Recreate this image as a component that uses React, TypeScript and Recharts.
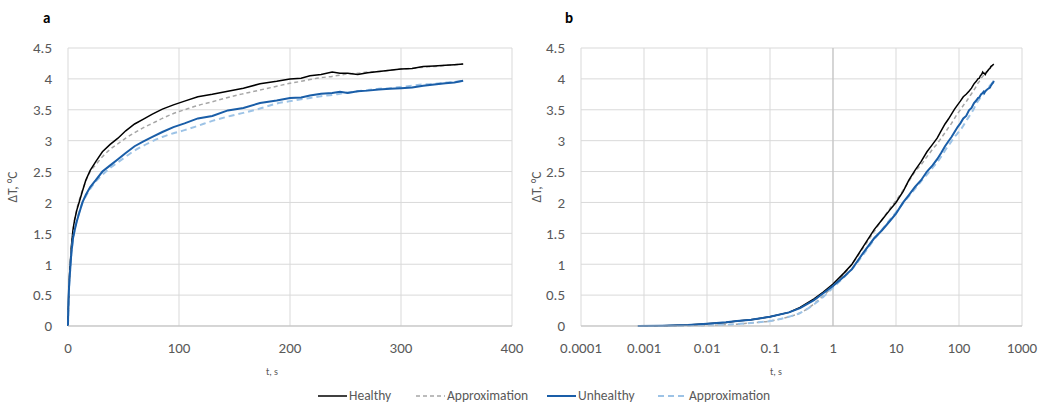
import React from 'react';
import { LineChart, Line, XAxis, YAxis, CartesianGrid, ReferenceLine } from 'recharts';

// time points, s (shared by both panels)
const T_SEC = [
  0.0008, 0.002, 0.005, 0.01, 0.02, 0.03, 0.05, 0.1, 0.2, 0.3, 0.5, 0.7, 1, 1.5, 2, 3, 4.5, 6, 8, 10,
  13, 16, 20, 25, 31, 38, 45, 52, 60, 68, 76, 85, 95, 105, 117, 130, 144, 158, 173, 188,
  200, 210, 218, 228, 238, 245, 252, 261, 270, 280, 290, 300, 310, 320, 330, 340, 348, 356,
];

const HEALTHY = [
  0, 0.005, 0.015, 0.035, 0.055, 0.08, 0.1, 0.15, 0.22, 0.3, 0.44, 0.55, 0.68, 0.86, 1.0, 1.28, 1.56, 1.72, 1.88, 2.0,
  2.18, 2.36, 2.52, 2.66, 2.82, 2.94, 3.04, 3.16, 3.27, 3.35, 3.43, 3.51, 3.58, 3.64, 3.71, 3.75, 3.8, 3.85, 3.92, 3.96,
  4.0, 4.01, 4.05, 4.07, 4.11, 4.09, 4.09, 4.07, 4.1, 4.12, 4.14, 4.16, 4.17, 4.2, 4.21, 4.22, 4.23, 4.24,
];

const HEALTHY_FIT = [
  0, 0.002, 0.005, 0.01, 0.02, 0.03, 0.05, 0.08, 0.15, 0.21, 0.36, 0.49, 0.64, 0.84, 1.0, 1.26, 1.53, 1.72, 1.9, 2.03,
  2.2, 2.34, 2.5, 2.61, 2.74, 2.86, 2.95, 3.04, 3.13, 3.21, 3.28, 3.36, 3.44, 3.5, 3.57, 3.63, 3.7, 3.76, 3.82, 3.88,
  3.93, 3.96, 3.99, 4.02, 4.04, 4.06, 4.08, 4.09, 4.11, 4.12, 4.14, 4.16, 4.17, 4.19, 4.2, 4.22, 4.23, 4.24,
];

const UNHEALTHY = [
  0, 0.005, 0.015, 0.035, 0.06, 0.08, 0.1, 0.15, 0.22, 0.29, 0.42, 0.53, 0.65, 0.8, 0.92, 1.18, 1.42, 1.55, 1.7, 1.82,
  2.0, 2.12, 2.25, 2.36, 2.5, 2.6, 2.7, 2.8, 2.91, 2.99, 3.06, 3.14, 3.22, 3.28, 3.36, 3.4, 3.49, 3.53, 3.61, 3.65,
  3.69, 3.7, 3.73, 3.76, 3.77, 3.79, 3.77, 3.8, 3.81, 3.83, 3.84, 3.85, 3.86, 3.89, 3.91, 3.93, 3.94, 3.97,
];

const UNHEALTHY_FIT = [
  0, 0.002, 0.005, 0.01, 0.02, 0.03, 0.05, 0.08, 0.15, 0.21, 0.35, 0.47, 0.62, 0.79, 0.92, 1.15, 1.4, 1.56, 1.72, 1.84,
  1.99, 2.1, 2.22, 2.34, 2.45, 2.56, 2.65, 2.74, 2.84, 2.92, 2.99, 3.06, 3.12, 3.17, 3.24, 3.32, 3.39, 3.45, 3.52, 3.6,
  3.64, 3.67, 3.69, 3.72, 3.74, 3.76, 3.78, 3.8, 3.82, 3.84, 3.85, 3.87, 3.89, 3.91, 3.92, 3.94, 3.95, 3.97,
];

const Y_TICKS = [0, 0.5, 1, 1.5, 2, 2.5, 3, 3.5, 4, 4.5];
const LIN_TICKS = [0, 100, 200, 300, 400];
const LOG_TICKS = [0.0001, 0.001, 0.01, 0.1, 1, 10, 100, 1000];

const rows = T_SEC.map((t, i) => ({
  t,
  healthy: HEALTHY[i],
  healthyFit: HEALTHY_FIT[i],
  unhealthy: UNHEALTHY[i],
  unhealthyFit: UNHEALTHY_FIT[i],
}));

const FONT = 'Carlito, Calibri, Lato, sans-serif';
const TEXT = '#595959';
const GRID = '#d9d9d9';

const tickStyle = { fontSize: 15, fill: TEXT, fontFamily: FONT };

type PanelProps = {
  log: boolean;
  left: number;
  width: number;
  margin: { top: number; right: number; bottom: number; left: number };
  yWidth: number;
};

const Panel: React.FC<PanelProps> = ({ log, left, width, margin, yWidth }) => (
  <div style={{ position: 'absolute', left, top: 0 }}>
    <LineChart width={width} height={405} data={rows} margin={margin}>
      <CartesianGrid stroke={GRID} strokeWidth={1} />
      {log ? (
        <XAxis
          dataKey="t"
          type="number"
          scale="log"
          domain={[0.0001, 1000]}
          ticks={LOG_TICKS}
          allowDataOverflow
          tickFormatter={(v: number) => String(v)}
          tick={tickStyle}
          tickLine={false}
          tickMargin={10}
          axisLine={{ stroke: '#bfbfbf' }}
          height={30}
          interval={0}
        />
      ) : (
        <XAxis
          dataKey="t"
          type="number"
          domain={[0, 400]}
          ticks={LIN_TICKS}
          tick={tickStyle}
          tickLine={false}
          tickMargin={10}
          axisLine={{ stroke: '#bfbfbf' }}
          height={30}
          interval={0}
        />
      )}
      <YAxis
        type="number"
        domain={[0, 4.5]}
        ticks={Y_TICKS}
        tick={tickStyle}
        tickLine={false}
        tickMargin={10}
        axisLine={false}
        width={yWidth}
        interval={0}
      />
      {log && <ReferenceLine x={1} stroke="#bfbfbf" strokeWidth={1} />}
      <Line dataKey="healthyFit" stroke="#a6a6a6" strokeWidth={1.5} strokeDasharray="4 3" dot={false} isAnimationActive={false} type="monotone" />
      <Line dataKey="healthy" stroke="#000000" strokeWidth={1.5} dot={false} isAnimationActive={false} type="linear" />
      <Line dataKey="unhealthyFit" stroke="#9dc3e6" strokeWidth={2} strokeDasharray="6 4" dot={false} isAnimationActive={false} type="monotone" />
      <Line dataKey="unhealthy" stroke="#1a5ea8" strokeWidth={2} dot={false} isAnimationActive={false} type="linear" />
    </LineChart>
  </div>
);

const legendItems = [
  { label: 'Healthy', color: '#000000', dash: undefined, width: 1.5, x: 318 },
  { label: 'Approximation', color: '#a6a6a6', dash: '4 3', width: 1.5, x: 416 },
  { label: 'Unhealthy', color: '#1a5ea8', dash: undefined, width: 2, x: 547 },
  { label: 'Approximation', color: '#9dc3e6', dash: '6 4', width: 2, x: 658 },
];

const abs = (left: number, top: number): React.CSSProperties => ({
  position: 'absolute',
  left,
  top,
  fontFamily: FONT,
  color: TEXT,
  whiteSpace: 'nowrap',
  lineHeight: 1,
});

const App: React.FC = () => (
  <div style={{ position: 'absolute', left: 0, top: 0, width: 1059, height: 405, background: '#fff', overflow: 'hidden' }}>
    <Panel log={false} left={0} width={530} margin={{ top: 48, right: 18, bottom: 49, left: 20 }} yWidth={48} />
    <Panel log left={530} width={529} margin={{ top: 48, right: 37, bottom: 49, left: 5 }} yWidth={46} />

    <div style={{ ...abs(43, 11), color: '#000', fontWeight: 700, fontSize: 15 }}>a</div>
    <div style={{ ...abs(565, 11), color: '#000', fontWeight: 700, fontSize: 15 }}>b</div>

    {[13, 537].map((x) => (
      <div
        key={x}
        style={{
          ...abs(x, 187),
          fontSize: 13.5,
          transform: 'translate(-50%, -50%) rotate(-90deg)',
        }}
      >
        ΔT, °C
      </div>
    ))}

    <div style={{ ...abs(272, 372), fontSize: 10, transform: 'translate(-50%, -50%)' }}>t, s</div>
    <div style={{ ...abs(776, 372), fontSize: 10, transform: 'translate(-50%, -50%)' }}>t, s</div>

    {legendItems.map((it) => (
      <div key={it.x} style={{ ...abs(it.x, 389), display: 'flex', alignItems: 'center', fontSize: 13.5 }}>
        <svg width={29} height={14} style={{ marginRight: 2 }}>
          <line x1={0} y1={7} x2={29} y2={7} stroke={it.color} strokeWidth={it.width} strokeDasharray={it.dash} />
        </svg>
        <span>{it.label}</span>
      </div>
    ))}
  </div>
);

export default App;
